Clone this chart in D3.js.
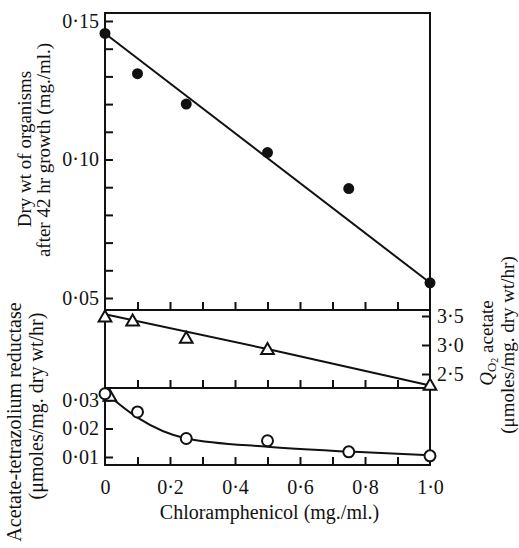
<!DOCTYPE html>
<html>
<head>
<meta charset="utf-8">
<script src="https://cdn.jsdelivr.net/npm/d3@7"></script>
<style>
  body { margin: 0; background: #fff; }
  svg text { font-family: "Liberation Serif", "DejaVu Serif", serif; fill: #111; }
</style>
</head>
<body>
<div id="chart"></div>
<script>
// dry weight after 42 hr (top panel)
const dryWtConc = [0, 0.1, 0.25, 0.5, 0.75, 1.0];
const dryWt = [0.1455, 0.131, 0.120, 0.1025, 0.0895, 0.0555];
const dryWtFitConc = [0, 1.0];
const dryWtFit = [0.1455, 0.0555];

// Q_O2 acetate (middle panel, right axis)
const qo2Conc = [0, 0.085, 0.25, 0.5, 1.0];
const qo2 = [3.47, 3.40, 3.10, 2.91, 2.29];
const qo2FitConc = [0, 0.5, 1.0];
const qo2Fit = [3.53, 2.93, 2.30];

// acetate-tetrazolium reductase (bottom panel)
const redConc = [0, 0.1, 0.25, 0.5, 0.75, 1.0];
const reductase = [0.0322, 0.0258, 0.0165, 0.0157, 0.0118, 0.0104];
const redFitConc = [0, 0.1, 0.25, 0.5, 0.75, 1.0];
const redFit = [0.0326, 0.0238, 0.0165, 0.0136, 0.0119, 0.0106];
const redTriConc = [0.015];
const redTri = [0.031];

const xTicks = [0, 0.2, 0.4, 0.6, 0.8, 1.0];
const xMinorTicks = [0.1, 0.2, 0.3, 0.4, 0.5, 0.6, 0.7, 0.8, 0.9];
const topTicks = [0.05, 0.06, 0.07, 0.08, 0.09, 0.10, 0.11, 0.12, 0.13, 0.14, 0.15];
const topLabels = [0.05, 0.10, 0.15];
const midTicks = [2.5, 3.0, 3.5];
const botTicks = [0.01, 0.02, 0.03];

const width = 519, height = 548;
const left = 105, right = 430;
const topY = 13, div1 = 310, div2 = 388, bottom = 465;

const svg = d3.select("#chart").append("svg")
    .attr("width", width)
    .attr("height", height);

const x = d3.scaleLinear().domain([0, 1]).range([left, right]);
const yTop = d3.scaleLinear().domain([0.05, 0.15]).range([298, 21]);
const yMid = d3.scaleLinear().domain([2.5, 3.5]).range([374, 316]);
const yBot = d3.scaleLinear().domain([0.01, 0.03]).range([457, 400]);

const dot = s => s.replace(".", "·");
const fmt2 = d3.format(".2f");
const fmt1 = d3.format(".1f");

// frame
const frame = svg.append("g")
    .attr("fill", "none")
    .attr("stroke", "#111")
    .attr("stroke-width", 2);
frame.append("rect")
    .attr("x", left).attr("y", topY)
    .attr("width", right - left).attr("height", bottom - topY);
[div1, div2].forEach(y => {
    frame.append("line")
        .attr("x1", left).attr("x2", right)
        .attr("y1", y).attr("y2", y);
});

// up-pointing ticks on each horizontal line
[div1, div2, bottom].forEach(y => {
    const ax = svg.append("g")
        .attr("transform", `translate(0,${y})`)
        .call(d3.axisBottom(x).tickValues(xMinorTicks).tickSize(-8).tickFormat(""));
    ax.select(".domain").remove();
    ax.selectAll("line").attr("stroke", "#111").attr("stroke-width", 2);
});

function styleAxis(g) {
    g.select(".domain").remove();
    g.selectAll("line").attr("stroke", "#111").attr("stroke-width", 2);
    g.selectAll("text").attr("font-size", 20).attr("font-family", "Liberation Serif").attr("fill", "#111");
}

// x labels
svg.append("g")
    .attr("transform", `translate(0,${bottom})`)
    .call(d3.axisBottom(x).tickValues(xTicks).tickSize(0).tickPadding(15)
        .tickFormat(d => d === 0 ? "0" : dot(fmt1(d))))
    .call(styleAxis);

// left axis top panel
svg.append("g")
    .attr("transform", `translate(${left},0)`)
    .call(d3.axisLeft(yTop).tickValues(topTicks).tickSize(-8).tickPadding(6)
        .tickFormat(d => topLabels.some(v => Math.abs(v - d) < 1e-9) ? dot(fmt2(d)) : ""))
    .call(styleAxis);

// left axis bottom panel
svg.append("g")
    .attr("transform", `translate(${left},0)`)
    .call(d3.axisLeft(yBot).tickValues(botTicks).tickSize(-8).tickPadding(6)
        .tickFormat(d => dot(fmt2(d))))
    .call(styleAxis);

// right axis middle panel
svg.append("g")
    .attr("transform", `translate(${right},0)`)
    .call(d3.axisRight(yMid).tickValues(midTicks).tickSize(-8).tickPadding(7)
        .tickFormat(d => dot(fmt1(d))))
    .call(styleAxis);

// fitted lines
const lineTop = d3.line().x(d => x(d[0])).y(d => yTop(d[1]));
const lineMid = d3.line().x(d => x(d[0])).y(d => yMid(d[1]));
const lineBot = d3.line().x(d => x(d[0])).y(d => yBot(d[1])).curve(d3.curveMonotoneX);

svg.append("path")
    .datum(d3.zip(dryWtFitConc, dryWtFit))
    .attr("d", lineTop)
    .attr("fill", "none").attr("stroke", "#111").attr("stroke-width", 2);
svg.append("path")
    .datum(d3.zip(qo2FitConc, qo2Fit))
    .attr("d", lineMid)
    .attr("fill", "none").attr("stroke", "#111").attr("stroke-width", 2);
svg.append("path")
    .datum(d3.zip(redFitConc, redFit))
    .attr("d", lineBot)
    .attr("fill", "none").attr("stroke", "#111").attr("stroke-width", 2);

// points
svg.append("g").selectAll("circle")
    .data(d3.zip(dryWtConc, dryWt))
    .join("circle")
    .attr("cx", d => x(d[0])).attr("cy", d => yTop(d[1]))
    .attr("r", 5.5).attr("fill", "#111");

const tri = d3.symbol().type(d3.symbolTriangle).size(70);
svg.append("g").selectAll("path")
    .data(d3.zip(qo2Conc, qo2))
    .join("path")
    .attr("d", tri)
    .attr("transform", d => `translate(${x(d[0])},${yMid(d[1])})`)
    .attr("fill", "#fff").attr("stroke", "#111").attr("stroke-width", 2);

svg.append("g").selectAll("path")
    .data(d3.zip(redTriConc, redTri))
    .join("path")
    .attr("d", tri)
    .attr("transform", d => `translate(${x(d[0])},${yBot(d[1])})`)
    .attr("fill", "#fff").attr("stroke", "#111").attr("stroke-width", 2);

svg.append("g").selectAll("circle")
    .data(d3.zip(redConc, reductase))
    .join("circle")
    .attr("cx", d => x(d[0])).attr("cy", d => yBot(d[1]))
    .attr("r", 5.5).attr("fill", "#fff").attr("stroke", "#111").attr("stroke-width", 2);

// axis titles
svg.append("text")
    .attr("x", (left + right) / 2 + 2).attr("y", 519)
    .attr("text-anchor", "middle").attr("font-size", 20)
    .text("Chloramphenicol (mg./ml.)");

function vTitle(cx, cy, txt, size) {
    return svg.append("text")
        .attr("transform", `translate(${cx},${cy}) rotate(-90)`)
        .attr("text-anchor", "middle")
        .attr("dominant-baseline", "central")
        .attr("font-size", size)
        .text(txt);
}
vTitle(24, 149, "Dry wt of organisms", 19);
vTitle(43, 150, "after 42 hr growth (mg./ml.)", 19);
vTitle(14, 422, "Acetate-tetrazolium reductase", 20);
vTitle(36, 406, "(μmoles/mg. dry wt/hr)", 20);

const qt = svg.append("text")
    .attr("transform", `translate(486,343) rotate(-90)`)
    .attr("text-anchor", "middle")
    .attr("dominant-baseline", "central")
    .attr("font-size", 19);
qt.append("tspan").attr("font-style", "italic").text("Q");
qt.append("tspan").attr("font-size", 13).attr("dy", 5).text("O");
qt.append("tspan").attr("font-size", 10).attr("dy", 3).text("2");
qt.append("tspan").attr("dy", -8).text(" acetate");
vTitle(507, 345, "(μmoles/mg. dry wt/hr)", 19);
</script>
</body>
</html>
